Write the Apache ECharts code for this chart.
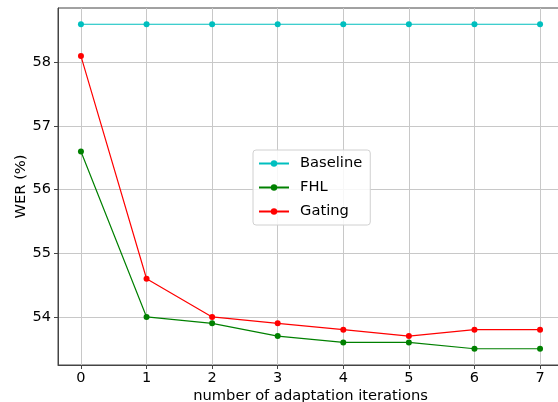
<!DOCTYPE html>
<html>
<head>
<meta charset="utf-8">
<script src="https://cdn.jsdelivr.net/npm/echarts@6/dist/echarts.min.js"></script>
<style>
  html, body { margin: 0; padding: 0; background: #fff; }
  #chart { width: 558px; height: 402px; }
</style>
</head>
<body>
<div id="chart"></div>
<script>
    const iterations = [0, 1, 2, 3, 4, 5, 6, 7];
    const baseline = [58.6, 58.6, 58.6, 58.6, 58.6, 58.6, 58.6, 58.6];
    const fhl = [56.6, 54.0, 53.9, 53.7, 53.6, 53.6, 53.5, 53.5];
    const gating = [58.1, 54.6, 54.0, 53.9, 53.8, 53.7, 53.8, 53.8];

    const pairs = (ys) => iterations.map((x, i) => [x, ys[i]]);

    const myChart = echarts.init(document.getElementById('chart'));
    const font = 'DejaVu Sans';

    function line(name, color, ys) {
        return {
            name: name,
            type: 'line',
            data: pairs(ys),
            symbol: 'circle',
            symbolSize: 6,
            lineStyle: { color: color, width: 1.2 },
            itemStyle: { color: color },
            emphasis: { disabled: true }
        };
    }

    const option = {
        animation: false,
        grid: {
            left: 58, top: 8, width: 505, height: 357,
            outerBoundsMode: 'none',
            containLabel: false,
            show: true, borderColor: '#444', borderWidth: 1, backgroundColor: 'transparent'
        },
        legend: {
            orient: 'vertical',
            left: 253, top: 150,
            itemWidth: 30, itemHeight: 8, itemGap: 9,
            padding: [6, 8, 6, 5],
            borderColor: '#d0d0d0', borderWidth: 1, borderRadius: 3,
            backgroundColor: 'rgba(255,255,255,0.85)',
            textStyle: { fontFamily: font, fontSize: 14.7, color: '#000', padding: [0, 0, 0, 6] },
            data: ['Baseline', 'FHL', 'Gating']
        },
        xAxis: {
            type: 'value',
            min: -0.35, max: 7.35,
            minInterval: 1, maxInterval: 1,
            name: 'number of adaptation iterations',
            nameLocation: 'middle',
            nameGap: 24,
            nameMoveOverlap: false,
            nameTextStyle: { fontFamily: font, fontSize: 14.7, color: '#000' },
            axisLine: { show: true, onZero: false, lineStyle: { color: '#444' } },
            axisTick: { show: true, length: 4, lineStyle: { color: '#444' } },
            axisLabel: { fontFamily: font, fontSize: 14.5, color: '#000', margin: 6,
                showMinLabel: false, showMaxLabel: false },
            splitLine: { show: true, showMinLine: false, showMaxLine: false,
                lineStyle: { color: '#c8c8c8', width: 1 } }
        },
        yAxis: {
            type: 'value',
            min: 53.245, max: 58.855,
            minInterval: 1, maxInterval: 1,
            name: 'WER (%)',
            nameLocation: 'middle',
            nameGap: 29,
            nameMoveOverlap: false,
            nameTextStyle: { fontFamily: font, fontSize: 14.7, color: '#000' },
            axisLine: { show: true, onZero: false, lineStyle: { color: '#444' } },
            axisTick: { show: true, length: 4, lineStyle: { color: '#444' } },
            axisLabel: { fontFamily: font, fontSize: 14.5, color: '#000', margin: 7,
                showMinLabel: false, showMaxLabel: false },
            splitLine: { show: true, showMinLine: false, showMaxLine: false,
                lineStyle: { color: '#c8c8c8', width: 1 } }
        },
        series: [
            line('Baseline', '#00bfbf', baseline),
            line('FHL', '#008000', fhl),
            line('Gating', '#ff0000', gating)
        ]
    };

    myChart.setOption(option);
</script>
</body>
</html>
